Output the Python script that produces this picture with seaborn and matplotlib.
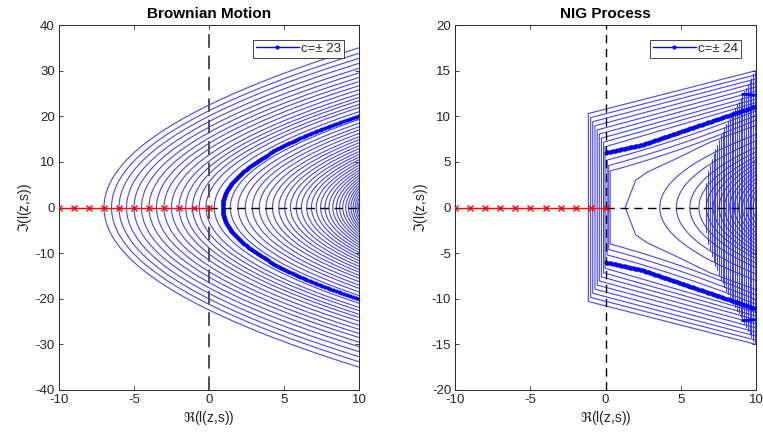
import numpy as np
import pandas as pd
import matplotlib
matplotlib.use("Agg")
import matplotlib.pyplot as plt
import seaborn as sns

# ---------------- data ----------------
# Brownian motion: parabolic contours, vertex on the real axis and |Im| where they reach Re=10
bm_vertex = [-7.0, -6.5, -6.0, -5.5, -5.0, -4.5, -4.0, -3.5, -3.0, -2.5, -2.0, -1.55,
             -1.1, -0.65, -0.2, 0.35,
             1.42, 1.93, 2.42, 2.89, 3.35, 3.80, 4.23, 4.65, 5.05, 5.43, 5.81, 6.16,
             6.51, 6.83, 7.15, 7.44, 7.73, 8.00, 8.25, 8.49, 8.71, 8.92, 9.12, 9.30,
             9.46, 9.61, 9.75, 9.87, 9.97]
bm_yend = [35.0, 33.8, 32.7, 31.6, 30.5, 29.5, 28.5, 27.6, 26.7, 25.8, 24.9, 24.1,
           23.4, 22.6, 21.9, 21.0,
           19.3, 18.5, 17.7, 17.0, 16.25, 15.5, 14.86, 14.18, 13.53, 12.9, 12.26, 11.66,
           11.04, 10.46, 9.86, 9.29, 8.7, 8.13, 7.57, 7.0, 6.45, 5.88, 5.29, 4.7,
           4.12, 3.49, 2.79, 2.01, 0.96]
bm_sel_vertex = 0.9
bm_sel_yend = 20.1
bm_label = "c=\u00b1 23"

# singular points (red crosses) on the negative real axis
sing_x = [-10, -9, -8, -7, -6, -5, -4, -3, -2, -1, 0]

# NIG process: bracket-shaped contours (vertical part, corner height, height at x=5, height at x=10)
nig_br_x = [-1.15, -1.0, -0.86, -0.71, -0.56, -0.42, -0.28, -0.14, -0.04, 0.1, 0.2, 0.3]
nig_br_corner = [10.3, 9.85, 9.4, 8.95, 8.5, 8.05, 7.6, 7.15, 6.65, 5.2, 4.6, 4.0]
nig_br_mid = [12.89, 12.41, 11.94, 11.46, 10.97, 10.5, 10.01, 9.56, 9.08, 7.6, 7.0, 6.4]
nig_br_end = [15.0, 14.55, 14.1, 13.65, 13.2, 12.75, 12.3, 11.9, 11.5, 10.6, 10.1, 9.6]
# highlighted contour (upper branch; lower one is its mirror)
nig_sel_x = [0.02, 2.5, 5.0, 7.5, 10.0]
nig_sel_y = [6.0, 6.9, 8.3, 9.7, 11.1]
nig_stub_x = [9.1, 10.0]
nig_stub_y = [12.4, 12.3]
nig_label = "c=\u00b1 24"
# pointed contour around the first interior point
nig_lt_x = [10, 7, 4.5, 2.8, 2.0, 1.3, 2.0, 2.8, 4.5, 7, 10]
nig_lt_y = [-9, -7.2, -5.2, -3.9, -3.0, 0, 3.0, 3.9, 5.2, 7.2, 9]
# nested arcs opening to the right
nig_arc_vertex = [3.6, 4.7, 5.6, 6.2, 6.7, 7.15, 7.55, 7.9, 8.25, 8.55, 8.85, 9.1, 9.35, 9.6, 9.8]
nig_arc_yend = [8.0, 7.3, 6.6, 6.1, 5.6, 5.2, 4.8, 4.4, 4.0, 3.6, 3.2, 2.8, 2.3, 1.8, 1.2]
# dense vertical segments near the right edge
nig_v_x = [6.70, 6.82, 6.94, 7.06, 7.18, 7.30, 7.42, 7.54, 7.66, 7.78, 7.90, 8.02, 8.14,
           8.26, 8.38, 8.50, 8.62, 8.74, 8.86, 8.98, 9.10, 9.22, 9.34, 9.46, 9.58, 9.70,
           9.82, 9.94]
nig_v_h = [2.7, 4.0, 4.7, 5.3, 5.9, 6.4, 6.9, 7.4, 7.9, 8.3, 8.7, 9.1, 9.5, 9.8, 10.2,
           10.6, 10.9, 11.3, 11.6, 12.0, 12.4, 12.8, 13.1, 13.5, 13.9, 14.2, 14.6, 14.9]

# ---------------- styling ----------------
sns.set_theme(style="white")
plt.rcParams["font.family"] = ["Liberation Sans", "DejaVu Sans"]
plt.rcParams["mathtext.fontset"] = "dejavusans"
plt.rcParams["axes.unicode_minus"] = False
TXT = "#262626"
BLUE = (0.15, 0.15, 0.95)

fig = plt.figure(figsize=(7.63, 4.45), dpi=100)
ax1 = fig.add_axes([59 / 763, 55 / 445, 300 / 763, 365 / 445])
ax2 = fig.add_axes([455.3 / 763, 55 / 445, 300.7 / 763, 365 / 445])

t = np.linspace(-1, 1, 241)


def parabola_frame(vertices, yends, xr=10.0):
    rows = []
    for i, (v, ye) in enumerate(zip(vertices, yends)):
        rows.append(pd.DataFrame({"x": v + (xr - v) * t ** 2, "y": ye * t, "curve": i}))
    return pd.concat(rows, ignore_index=True)


# ---------------- Brownian motion ----------------
df_bm = parabola_frame(bm_vertex, bm_yend)
sns.lineplot(data=df_bm, x="x", y="y", units="curve", estimator=None, sort=False,
             color=BLUE, lw=0.8, alpha=0.85, ax=ax1, legend=False)
sel_t = np.linspace(-1, 1, 181)
sns.lineplot(x=bm_sel_vertex + (10 - bm_sel_vertex) * sel_t ** 2, y=bm_sel_yend * sel_t,
             sort=False, estimator=None, color="blue", lw=1.0, marker=".", markersize=4.5,
             markeredgecolor="blue", ax=ax1, label=bm_label)
ax1.plot([0, 0], [-40, 40], ls=(0, (7, 4)), color="#505050", lw=1.4, zorder=4)
ax1.plot([0, 10], [0, 0], ls=(0, (6, 4)), color="black", lw=1.0, zorder=4)
sns.lineplot(x=sing_x, y=[0] * len(sing_x), color="red", marker="x", markersize=5,
             estimator=None, markeredgewidth=1.0, markeredgecolor="red", lw=1.0, ax=ax1,
             legend=False)
ax1.lines[-1].set_zorder(5)

# ---------------- NIG ----------------
rows = []
cid = 0
for a, h, m, e in zip(nig_br_x, nig_br_corner, nig_br_mid, nig_br_end):
    xs = np.linspace(a, 10, 60)
    coef = np.polyfit([a, 5.0, 10.0], [h, m, e], 2)
    ys = np.polyval(coef, xs)
    X = np.concatenate([xs[::-1], xs])
    Y = np.concatenate([-ys[::-1], ys])
    rows.append(pd.DataFrame({"x": X, "y": Y, "curve": cid}))
    cid += 1
rows.append(pd.DataFrame({"x": nig_lt_x, "y": nig_lt_y, "curve": cid}))
cid += 1
for v, ye in zip(nig_arc_vertex, nig_arc_yend):
    rows.append(pd.DataFrame({"x": v + (10 - v) * t ** 2, "y": ye * t, "curve": cid}))
    cid += 1
for vx, vh in zip(nig_v_x, nig_v_h):
    rows.append(pd.DataFrame({"x": [vx, vx], "y": [-vh, vh], "curve": cid}))
    cid += 1
df_nig = pd.concat(rows, ignore_index=True)
sns.lineplot(data=df_nig, x="x", y="y", units="curve", estimator=None, sort=False,
             color=BLUE, lw=0.8, alpha=0.85, ax=ax2, legend=False)

xs_sel = np.linspace(nig_sel_x[0], nig_sel_x[-1], 120)
ys_sel = np.interp(xs_sel, nig_sel_x, nig_sel_y)
sns.lineplot(x=xs_sel, y=ys_sel, sort=False, estimator=None, color="blue", lw=1.0,
             marker=".", markersize=4.5, markeredgecolor="blue", ax=ax2, label=nig_label)
sns.lineplot(x=xs_sel, y=-ys_sel, sort=False, estimator=None, color="blue", lw=1.0,
             marker=".", markersize=4.5, markeredgecolor="blue", ax=ax2, legend=False)
for sgn in (1, -1):
    ax2.plot(nig_stub_x, [sgn * v for v in nig_stub_y], color="blue", lw=2.0)
ax2.plot([0, 0], [-20, 20], ls=(0, (6, 4)), color="black", lw=1.0, zorder=4)
ax2.plot([0, 10], [0, 0], ls=(0, (6, 4)), color="black", lw=1.0, zorder=4)
sns.lineplot(x=sing_x, y=[0] * len(sing_x), color="red", marker="x", markersize=5,
             estimator=None, markeredgewidth=1.0, markeredgecolor="red", lw=1.0, ax=ax2,
             legend=False)
ax2.lines[-1].set_zorder(5)

# ---------------- axes cosmetics ----------------
for ax, title, ylim, yt in [(ax1, "Brownian Motion", (-40, 40), np.arange(-40, 41, 10)),
                            (ax2, "NIG Process", (-20, 20), np.arange(-20, 21, 5))]:
    ax.set_xlim(-10, 10)
    ax.set_ylim(*ylim)
    ax.set_xticks([-10, -5, 0, 5, 10])
    ax.set_yticks(yt)
    ax.set_title(title, fontsize=11, fontweight="bold", color="black", pad=5)
    ax.set_xlabel(r"$\Re$(l(z,s))", fontsize=10, color=TXT, labelpad=2)
    ax.set_ylabel(r"$\Im$(l(z,s))", fontsize=10, color=TXT, labelpad=1)
    ax.tick_params(direction="in", length=3, width=0.6, colors=TXT, labelsize=9.5,
                   top=True, right=True, bottom=True, left=True, pad=3)
    for sp in ax.spines.values():
        sp.set_color(TXT)
        sp.set_linewidth(0.7)
        sp.set_visible(True)
    leg = ax.legend(loc="upper right", fontsize=9.5, frameon=True, fancybox=False,
                    edgecolor=TXT, framealpha=1, handlelength=3.2, borderpad=0.25,
                    handletextpad=0.2, borderaxespad=1.1, numpoints=1)
    leg.get_frame().set_linewidth(0.6)

fig.savefig("out.png", dpi=100)
